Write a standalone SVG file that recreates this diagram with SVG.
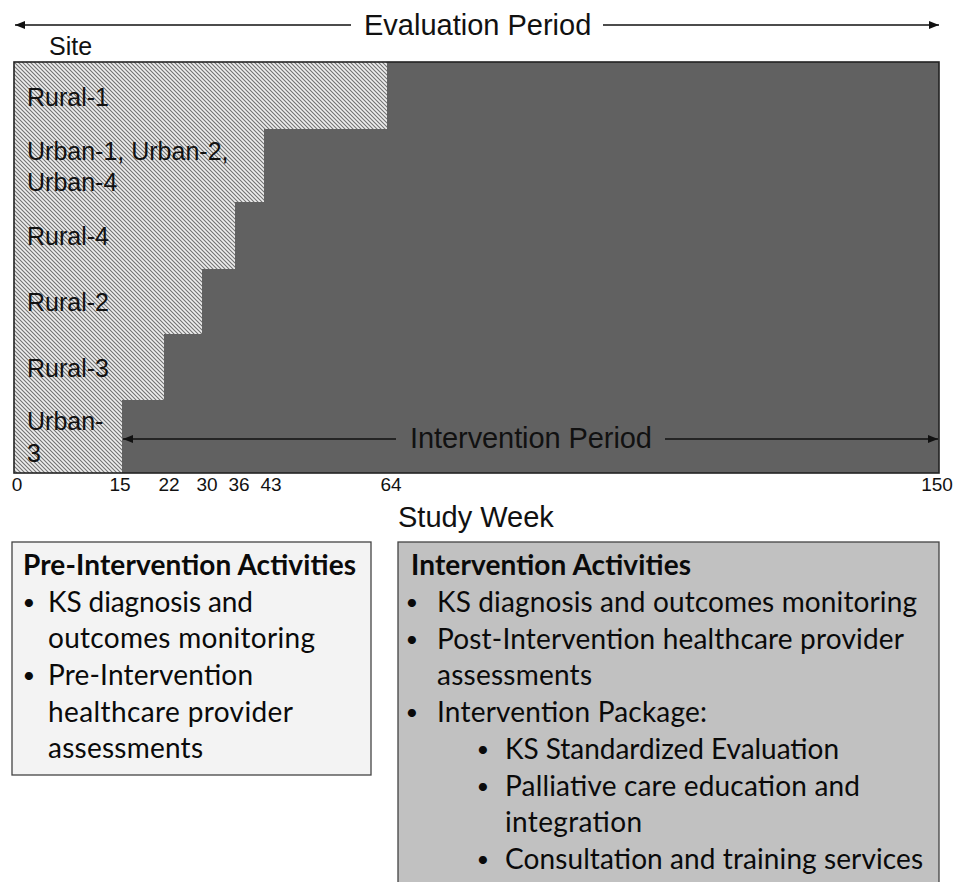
<svg xmlns="http://www.w3.org/2000/svg" width="954" height="882" viewBox="0 0 954 882">
  <style>
    .lbl { font-family: "Liberation Sans", Arial, sans-serif; fill: #111; }
    .site { font-size: 25px; }
    .tick { font-size: 19px; text-anchor: middle; }
    .big { font-size: 29px; }
    .box-text { font-family: Lato, "Open Sans", sans-serif; font-size: 28px; fill: #0a0a0a; }
    .box-title { font-weight: bold; }
    .bullet { font-size: 22px; text-anchor: middle; }
    .conn { stroke: #111; stroke-width: 1.6; fill: none; }
  </style>
  <defs>
    <pattern id="hatch" width="4" height="4" patternUnits="userSpaceOnUse">
      <rect width="4" height="4" fill="#eeeeee"/>
      <path d="M-1,-1 L5,5 M-1,3 L1,5 M3,-1 L5,1" stroke="#727272" stroke-width="1.1"/>
    </pattern>
    <marker id="arrow" viewBox="0 0 10 8" refX="10" refY="4" markerWidth="10" markerHeight="8" markerUnits="userSpaceOnUse" orient="auto-start-reverse">
      <path d="M0,0 L10,4 L0,8 Z" fill="#111"/>
    </marker>
  </defs>

  <rect width="954" height="882" fill="#ffffff"/>

  <!-- Study timeline chart: pre-intervention (hatched) and intervention (dark) periods -->
  <g id="timeline-chart">
    <rect id="pre-intervention-area" x="14" y="62" width="925" height="411" fill="url(#hatch)"/>
    <polygon id="intervention-area" fill="#616161"
      points="387,62 939,62 939,473 122,473 122,400 164,400 164,334 202,334 202,269 235,269 235,202 264,202 264,129 387,129"/>
    <rect x="14" y="62" width="925" height="411" fill="none" stroke="#222" stroke-width="1.6"/>
  </g>

  <!-- Site labels -->
  <g id="site-header"><text class="lbl site" x="49" y="55">Site</text></g>
  <g id="site-rural-1"><text class="lbl site" x="27" y="106">Rural-1</text></g>
  <g id="site-urban-1-2-4">
    <text class="lbl site" x="27" y="160">Urban-1, Urban-2,</text>
    <text class="lbl site" x="27" y="191">Urban-4</text>
  </g>
  <g id="site-rural-4"><text class="lbl site" x="27" y="245">Rural-4</text></g>
  <g id="site-rural-2"><text class="lbl site" x="27" y="311">Rural-2</text></g>
  <g id="site-rural-3"><text class="lbl site" x="27" y="377">Rural-3</text></g>
  <g id="site-urban-3">
    <text class="lbl site" x="27" y="430">Urban-</text>
    <text class="lbl site" x="27" y="462">3</text>
  </g>

  <!-- Week axis -->
  <g id="week-axis">
    <text class="lbl tick" x="17" y="491">0</text>
    <text class="lbl tick" x="120" y="491">15</text>
    <text class="lbl tick" x="169" y="491">22</text>
    <text class="lbl tick" x="207" y="491">30</text>
    <text class="lbl tick" x="239" y="491">36</text>
    <text class="lbl tick" x="271" y="491">43</text>
    <text class="lbl tick" x="391" y="491">64</text>
    <text class="lbl tick" x="937" y="491">150</text>
    <text class="lbl big" x="398" y="527">Study Week</text>
  </g>

  <!-- Period labels -->
  <g id="evaluation-period-label"><text class="lbl big" x="364" y="35">Evaluation Period</text></g>
  <g id="intervention-period-label"><text class="lbl big" x="410" y="448" textLength="242">Intervention Period</text></g>

  <!-- Period arrows -->
  <g id="connectors">
    <line class="conn" x1="351" y1="25" x2="15" y2="25" marker-end="url(#arrow)"/>
    <line class="conn" x1="603" y1="25" x2="939" y2="25" marker-end="url(#arrow)"/>
    <line class="conn" x1="396" y1="439" x2="123" y2="439" marker-end="url(#arrow)"/>
    <line class="conn" x1="665" y1="439" x2="938" y2="439" marker-end="url(#arrow)"/>
  </g>

  <!-- Pre-intervention activities box -->
  <g id="pre-intervention-activities">
    <rect x="12" y="542" width="359" height="233" fill="#f3f3f3" stroke="#444" stroke-width="1.3"/>
    <text class="box-text box-title" x="23" y="575" textLength="333">Pre-Intervention Activities</text>
    <text class="box-text bullet" x="29" y="610">•</text>
    <text class="box-text" x="48" y="612" textLength="205">KS diagnosis and</text>
    <text class="box-text" x="48" y="648" textLength="267">outcomes monitoring</text>
    <text class="box-text bullet" x="29" y="683">•</text>
    <text class="box-text" x="48" y="685" textLength="205">Pre-Intervention</text>
    <text class="box-text" x="48" y="722" textLength="245">healthcare provider</text>
    <text class="box-text" x="48" y="758" textLength="155">assessments</text>
  </g>

  <!-- Intervention activities box -->
  <g id="intervention-activities">
    <rect x="398" y="542" width="541" height="350" fill="#c1c1c1" stroke="#444" stroke-width="1.3"/>
    <text class="box-text box-title" x="411" y="575" textLength="280">Intervention Activities</text>
    <text class="box-text bullet" x="412" y="610">•</text>
    <text class="box-text" x="437" y="612" textLength="480">KS diagnosis and outcomes monitoring</text>
    <text class="box-text bullet" x="412" y="647">•</text>
    <text class="box-text" x="437" y="649" textLength="467">Post-Intervention healthcare provider</text>
    <text class="box-text" x="437" y="685" textLength="155">assessments</text>
    <text class="box-text bullet" x="412" y="720">•</text>
    <text class="box-text" x="437" y="722" textLength="270">Intervention Package:</text>
    <text class="box-text bullet" x="483" y="757">•</text>
    <text class="box-text" x="505" y="759" textLength="334">KS Standardized Evaluation</text>
    <text class="box-text bullet" x="483" y="794">•</text>
    <text class="box-text" x="505" y="796" textLength="355">Palliative care education and</text>
    <text class="box-text" x="505" y="832" textLength="137">integration</text>
    <text class="box-text bullet" x="483" y="867">•</text>
    <text class="box-text" x="505" y="869" textLength="418">Consultation and training services</text>
  </g>
</svg>
